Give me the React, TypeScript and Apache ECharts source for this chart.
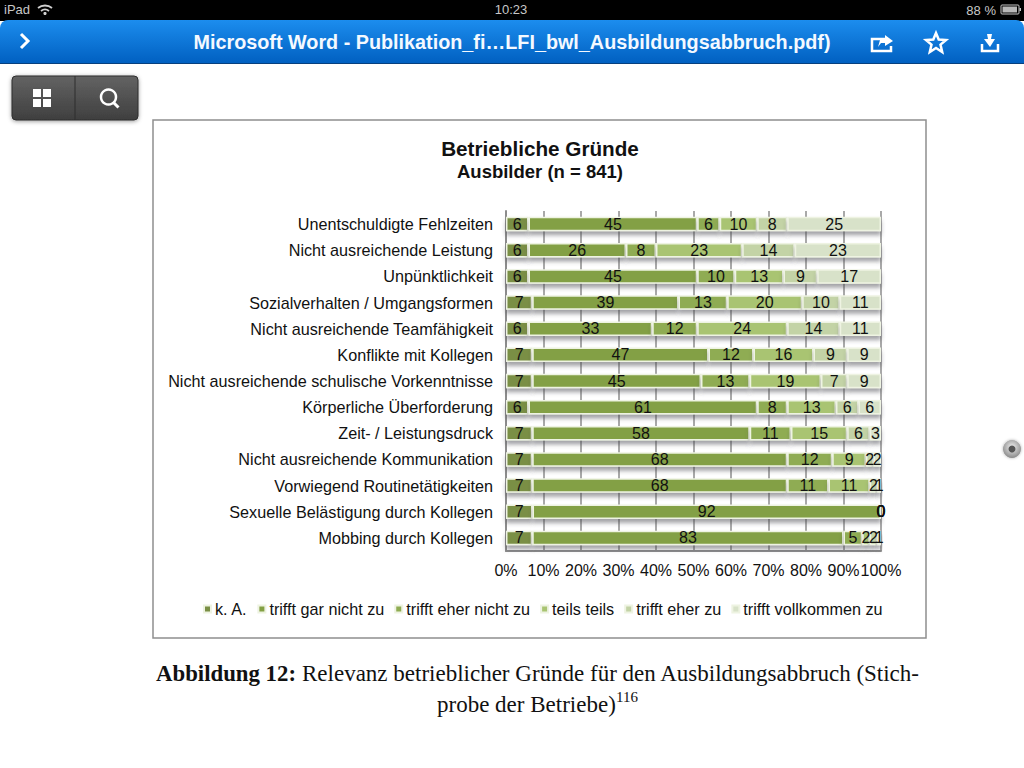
import React, { useEffect, useRef } from "react";
import * as echarts from "echarts";

const categories = [
  "Unentschuldigte Fehlzeiten",
  "Nicht ausreichende Leistung",
  "Unpünktlichkeit",
  "Sozialverhalten / Umgangsformen",
  "Nicht ausreichende Teamfähigkeit",
  "Konflikte mit Kollegen",
  "Nicht ausreichende schulische Vorkenntnisse",
  "Körperliche Überforderung",
  "Zeit- / Leistungsdruck",
  "Nicht ausreichende Kommunikation",
  "Vorwiegend Routinetätigkeiten",
  "Sexuelle Belästigung durch Kollegen",
  "Mobbing durch Kollegen",
];
const seriesNames = ["k. A.", "trifft gar nicht zu", "trifft eher nicht zu", "teils teils", "trifft eher zu", "trifft vollkommen zu"];
const seriesColors = ["#7a8f45", "#83a044", "#8fac52", "#a9c472", "#c3d3a6", "#d8e2c9"];
const kA = [6, 6, 6, 7, 6, 7, 7, 6, 7, 7, 7, 7, 7];
const garNicht = [45, 26, 45, 39, 33, 47, 45, 61, 58, 68, 68, 92, 83];
const eherNicht = [6, 8, 10, 13, 12, 12, 13, 8, 11, 12, 11, 0, 5];
const teils = [10, 23, 13, 20, 24, 16, 19, 13, 15, 9, 11, 0, 2];
const eherZu = [8, 14, 9, 10, 14, 9, 7, 6, 6, 2, 2, 0, 2];
const vollkommen = [25, 23, 17, 11, 11, 9, 9, 6, 3, 2, 1, 0, 1];
const rows = [kA, garNicht, eherNicht, teils, eherZu, vollkommen];
const totals = categories.map((_, i) => rows.reduce((s, r) => s + r[i], 0));

const SANS = "'Liberation Sans', Arial, sans-serif";
const SERIF = "'Liberation Serif', 'Times New Roman', serif";

echarts.graphic.registerShape("wifiIcon", echarts.graphic.extendPath("M38 8 A11 11 0 0 1 52 8 M41 11 A6.5 6.5 0 0 1 49 11", {}));

const txt = (x: number, y: number, text: string, fontSize: number, fill: string, fontWeight = "normal", align = "center", fontFamily = SANS) => ({
  type: "text", x, y, silent: true,
  style: { text, fontSize, fill, fontWeight, align, verticalAlign: "middle", fontFamily },
});

const chromeGraphics: any[] = [
  { type: "rect", shape: { x: 0, y: 0, width: 1024, height: 21 }, style: { fill: "#000" } },
  {
    type: "rect", shape: { x: 0, y: 20, width: 1024, height: 44, r: [8, 8, 0, 0] },
    style: {
      fill: new echarts.graphic.LinearGradient(0, 0, 0, 1, [
        { offset: 0, color: "#1c8dee" }, { offset: 1, color: "#005fc0" },
      ]),
    },
  },
  { type: "line", shape: { x1: 0, y1: 63.5, x2: 1024, y2: 63.5 }, style: { stroke: "#07407e", lineWidth: 1 } },
  txt(4, 9, "iPad", 13, "#c8c8c8", "normal", "left"),
  { type: "wifiIcon", style: { stroke: "#d0d0d0", fill: "none", lineWidth: 1.8 } },
  { type: "circle", shape: { cx: 45, cy: 13.5, r: 1.6 }, style: { fill: "#d0d0d0" } },
  txt(511, 9, "10:23", 13, "#c8c8c8"),
  txt(996, 10, "88 %", 13, "#c8c8c8", "normal", "right"),
  { type: "rect", shape: { x: 1001, y: 5, width: 18, height: 9, r: 1 }, style: { fill: "none", stroke: "#c8c8c8", lineWidth: 1 } },
  { type: "rect", shape: { x: 1002.5, y: 6.5, width: 14.5, height: 6 }, style: { fill: "#b8b8b8" } },
  { type: "rect", shape: { x: 1019.5, y: 8, width: 1.5, height: 3 }, style: { fill: "#c8c8c8" } },
  { type: "polyline", shape: { points: [[21, 34], [28, 41], [21, 48]] }, style: { stroke: "#fff", lineWidth: 3, fill: "none" } },
  txt(512, 42, "Microsoft Word - Publikation_fi…LFI_bwl_Ausbildungsabbruch.pdf)", 19.8, "#f4f9ff", "bold"),
  { type: "polyline", shape: { points: [[885, 39], [872, 39], [872, 51], [891, 51], [891, 46]] }, style: { stroke: "#fff", lineWidth: 2.5, fill: "none" } },
  { type: "polygon", shape: { points: [[878, 47], [880, 40], [885, 39], [885, 35], [893, 41], [885, 46], [885, 43], [881, 43]] }, style: { fill: "#fff" } },
  { type: "polygon", shape: { points: [[936, 33], [938.7, 39.5], [946, 40], [940.5, 44.6], [942.2, 52], [936, 48], [929.8, 52], [931.5, 44.6], [926, 40], [933.3, 39.5]] }, style: { stroke: "#fff", lineWidth: 2.5, fill: "none" } },
  { type: "polyline", shape: { points: [[982, 44], [982, 51], [998, 51], [998, 44]] }, style: { stroke: "#fff", lineWidth: 2.5, fill: "none" } },
  { type: "polygon", shape: { points: [[987, 34], [992, 34], [991, 39], [995, 39], [990, 47], [984, 39], [988, 39]] }, style: { fill: "#fff" } },
  {
    type: "rect", shape: { x: 12, y: 76, width: 126, height: 44, r: 4 },
    style: {
      fill: new echarts.graphic.LinearGradient(0, 0, 0, 1, [
        { offset: 0, color: "#636363" }, { offset: 1, color: "#3f3f3f" },
      ]),
      stroke: "#2e2e2e", lineWidth: 1, shadowBlur: 4, shadowColor: "rgba(0,0,0,0.4)", shadowOffsetY: 1,
    },
  },
  { type: "line", shape: { x1: 75, y1: 76, x2: 75, y2: 120 }, style: { stroke: "#2f2f2f", lineWidth: 1 } },
  { type: "rect", shape: { x: 33, y: 89, width: 8, height: 8 }, style: { fill: "#fff" } },
  { type: "rect", shape: { x: 43, y: 89, width: 8, height: 8 }, style: { fill: "#fff" } },
  { type: "rect", shape: { x: 33, y: 99, width: 8, height: 8 }, style: { fill: "#fff" } },
  { type: "rect", shape: { x: 43, y: 99, width: 8, height: 8 }, style: { fill: "#fff" } },
  { type: "circle", shape: { cx: 108.5, cy: 97, r: 7.5 }, style: { stroke: "#fff", lineWidth: 2.5, fill: "none" } },
  { type: "line", shape: { x1: 113, y1: 102, x2: 118.5, y2: 107.5 }, style: { stroke: "#fff", lineWidth: 3 } },
  { type: "circle", shape: { cx: 1012, cy: 449, r: 9 }, style: { fill: new echarts.graphic.RadialGradient(0.5, 0.4, 0.6, [{ offset: 0, color: "#f0f0f0" }, { offset: 1, color: "#8a8a8a" }]), shadowBlur: 3, shadowColor: "rgba(0,0,0,0.3)" } },
  { type: "circle", shape: { cx: 1012, cy: 449, r: 3.5 }, style: { fill: "#555" } },
  { type: "rect", shape: { x: 153, y: 120, width: 773, height: 518 }, style: { fill: "none", stroke: "#8f8f8f", lineWidth: 1.5 } },
  txt(540, 148, "Betriebliche Gründe", 20.7, "#111", "bold"),
  txt(540, 171, "Ausbilder (n = 841)", 18.5, "#111", "bold"),
  txt(156, 673, "Abbildung 12:", 22.8, "#111", "bold", "left", SERIF),
  txt(302, 673, "Relevanz betrieblicher Gründe für den Ausbildungsabbruch (Stich-", 23, "#111", "normal", "left", SERIF),
  txt(437, 704, "probe der Betriebe)", 23, "#111", "normal", "left", SERIF),
  txt(616, 697, "116", 15, "#111", "normal", "left", SERIF),
];

export default function App() {
  const ref = useRef<HTMLDivElement>(null);
  useEffect(() => {
    document.body.style.margin = "0";
    document.body.style.background = "#fff";
    const chart = echarts.init(ref.current!, null, { renderer: "svg" });
    chart.setOption({
      animation: false,
      backgroundColor: "#fff",
      graphic: { elements: chromeGraphics },
      legend: {
        left: 198, top: 596, icon: "rect", itemWidth: 7, itemHeight: 7, itemGap: 10,
        data: seriesNames, selectedMode: false,
        textStyle: { fontSize: 16.2, color: "#111", fontFamily: SANS, padding: [0, 0, 0, -1] },
      },
      grid: { left: 506, top: 211, width: 375, height: 340, containLabel: false },
      xAxis: {
        type: "value", min: 0, max: 100, interval: 10,
        axisLabel: { formatter: "{value}%", fontSize: 16, color: "#111", fontFamily: SANS, margin: 11, hideOverlap: false },
        axisLine: { show: true, lineStyle: { color: "#8c8c8c", width: 2 } },
        axisTick: { show: false },
        splitLine: { show: true, lineStyle: { color: "#8c8c8c", width: 1.5 } },
      },
      yAxis: {
        type: "category", inverse: true, data: categories,
        axisLabel: { fontSize: 16.2, color: "#111", fontFamily: SANS, margin: 13, interval: 0, padding: [0, 0, 2, 0] },
        axisLine: { show: true, lineStyle: { color: "#8c8c8c", width: 2 } },
        axisTick: { show: false },
      },
      series: rows.map((r, si) => ({
        name: seriesNames[si], type: "bar", stack: "total", barWidth: 14.5,
        itemStyle: {
          color: seriesColors[si], borderColor: "#eef3e2", borderWidth: 1.5,
          shadowColor: "rgba(70,70,80,0.5)", shadowBlur: 4, shadowOffsetY: 4,
        },
        label: {
          show: true, position: "inside", fontSize: 16, color: "#111", fontFamily: SANS,
          formatter: (p: any) => String(r[p.dataIndex]),
        },
        labelLayout: { hideOverlap: false },
        data: r.map((v, i) => ({
          value: (v / totals[i]) * 100,
          itemStyle: v === 0 ? { borderWidth: 0, shadowBlur: 0, shadowColor: "transparent" } : undefined,
        })),
      })),
    });
    return () => chart.dispose();
  }, []);
  return <div ref={ref} style={{ position: "fixed", left: 0, top: 0, width: 1024, height: 768 }} />;
}
